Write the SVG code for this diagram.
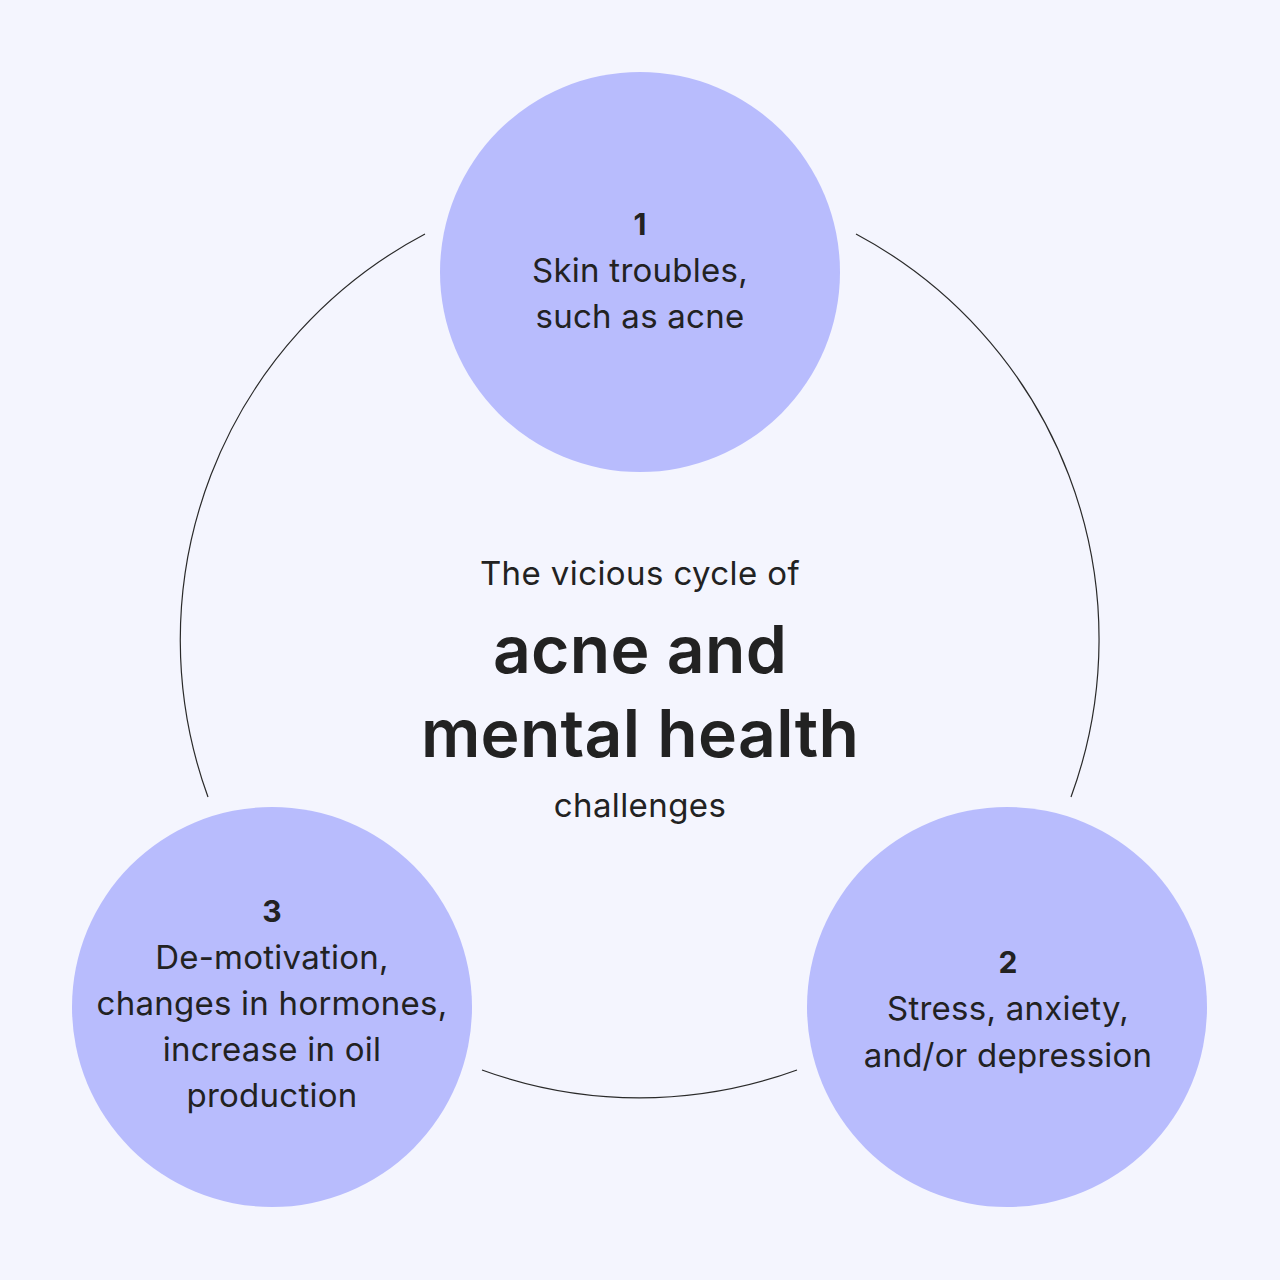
<svg xmlns="http://www.w3.org/2000/svg" width="1280" height="1280" viewBox="0 0 1280 1280">
<style>
.bg{fill:#F4F5FE}
.node{fill:#B8BCFD}
.arc{fill:none;stroke:#2a2a2a;stroke-width:1.2}
text{font-family:Inter,"Liberation Sans",sans-serif;fill:#222222;text-anchor:middle}
.num{font-size:30px;font-weight:700}
.lbl{font-size:33px;font-weight:400;letter-spacing:0.25px}
.sub{font-size:33px;font-weight:400;letter-spacing:0.4px}
.big{font-size:66px;font-weight:600;letter-spacing:0.3px}
</style>
<rect class="bg" x="0" y="0" width="1280" height="1280"/>
<g id="connectors">
<path class="arc" d="M425,234 A459,459 0 0 0 208,797"/>
<path class="arc" d="M856,234 A459,459 0 0 1 1071,797"/>
<path class="arc" d="M482,1070 A459,459 0 0 0 797,1070"/>
</g>
<g id="title">
<text class="sub" x="640" y="585">The vicious cycle of</text>
<text class="big" x="640" y="673">acne and</text>
<text class="big" x="640" y="757">mental health</text>
<text class="sub" x="640" y="817">challenges</text>
</g>
<g id="node1">
<circle class="node" cx="640" cy="272" r="200"/>
<text class="num" x="640" y="235">1</text>
<text class="lbl" x="640" y="282">Skin troubles,</text>
<text class="lbl" x="640" y="328">such as acne</text>
</g>
<g id="node2">
<circle class="node" cx="1007" cy="1007" r="200"/>
<text class="num" x="1008" y="973">2</text>
<text class="lbl" x="1008" y="1020">Stress, anxiety,</text>
<text class="lbl" x="1008" y="1067">and/or depression</text>
</g>
<g id="node3">
<circle class="node" cx="272" cy="1007" r="200"/>
<text class="num" x="272" y="922">3</text>
<text class="lbl" x="272" y="969">De-motivation,</text>
<text class="lbl" x="272" y="1015">changes in hormones,</text>
<text class="lbl" x="272" y="1061">increase in oil</text>
<text class="lbl" x="272" y="1107">production</text>
</g>
</svg>
